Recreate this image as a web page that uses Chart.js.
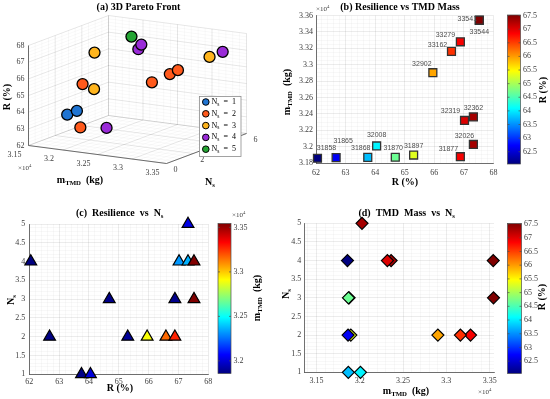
<!DOCTYPE html>
<html>
<head>
<meta charset="utf-8">
<script src="https://cdn.jsdelivr.net/npm/chart.js@4/dist/chart.umd.min.js"></script>
<style>
    html, body { margin: 0; padding: 0; background: #fff; }
    #wrap { position: relative; width: 550px; height: 399px; }
    #wrap canvas { position: absolute; left: 0; top: 0; }
</style>
</head>
<body>
<div id="wrap">
    <canvas id="pareto3d" width="550" height="399"></canvas>
    <canvas id="massChart" width="550" height="399"></canvas>
    <canvas id="nsChart" width="550" height="399"></canvas>
    <canvas id="massNsChart" width="550" height="399"></canvas>
</div>
<script>
// ---- data ----
const resilience = [62.05, 62.68, 63.75, 64.05, 64.68, 65.30, 65.95, 66.58, 66.88, 66.88, 67.02, 67.32, 67.32, 67.52, 67.52];
const tmdMass    = [31858, 31865, 31868, 32008, 31870, 31897, 32902, 33162, 33279, 31877, 32319, 32362, 32026, 33541, 33544];
const nSub       = [4, 2, 1, 1, 3, 2, 2, 2, 2, 3, 4, 4, 5, 4, 3];
const nsGroups   = [1, 2, 3, 4, 5];

// tick labels
const rTicks        = [62, 63, 64, 65, 66, 67, 68];
const massTicksB    = [3.18, 3.20, 3.22, 3.24, 3.26, 3.28, 3.30, 3.32, 3.34, 3.36];
const massTicksD    = [3.15, 3.20, 3.25, 3.30, 3.35];
const nsTicks       = [1, 1.5, 2, 2.5, 3, 3.5, 4, 4.5, 5];
const rBarTicks     = [62.5, 63, 63.5, 64, 64.5, 65, 65.5, 66, 66.5, 67, 67.5];
const massBarTicks  = [3.20, 3.25, 3.30, 3.35];
const mass3dTicks   = [3.15, 3.20, 3.25, 3.30, 3.35];
const ns3dTicks     = [0, 2, 4, 6];
const r3dTicks      = [62, 63, 64, 65, 66, 67, 68];

// look
const groupColors = ['#1f74d2', '#ff5a1c', '#ffb51e', '#9a2bd8', '#25a534'];
const SERIF = "'Liberation Serif', 'DejaVu Serif', serif";
const SANS = "'Liberation Sans', Arial, sans-serif";
const TICK_COLOR = '#404040';
const GRID_MAJOR = 'rgba(0,0,0,0.13)';
const GRID_MINOR = 'rgba(0,0,0,0.05)';

// label nudges for panel (b), px
const labelNudge = [[9, -10], [7, -17], [-7, -9], [0, -11], [-2, -9], [0, -9], [-11, -9], [-14, -6],
                    [-15, -7], [-12, -8], [-14, -9], [0, -9], [-9, -8], [-12, -1], [0, 12]];

const rMin = Math.min(...resilience), rMax = Math.max(...resilience);
const mMin = Math.min(...tmdMass), mMax = Math.max(...tmdMass);

function jet(t) {
    t = Math.max(0, Math.min(1, t));
    const c = k => Math.round(255 * Math.max(0, Math.min(1, 1.5 - Math.abs(4 * t - k))));
    return `rgb(${c(3)},${c(2)},${c(1)})`;
}

// text with sub/superscripts: parts = ['m', ['TMD', 'sub'], ' (kg)']
function rich(ctx, parts, x, y, o = {}) {
    const size = o.size || 10, weight = o.bold ? 'bold ' : '', fam = o.family || SERIF;
    const spec = parts.map(p => {
        const [t, k] = Array.isArray(p) ? p : [p, ''];
        const s = k ? size * 0.68 : size;
        ctx.font = `${weight}${s}px ${fam}`;
        return { t, k, s, w: ctx.measureText(t).width };
    });
    const total = spec.reduce((a, p) => a + p.w, 0);
    ctx.save();
    ctx.translate(x, y);
    if (o.rotate) ctx.rotate(o.rotate);
    let cx = o.align === 'left' ? 0 : o.align === 'right' ? -total : -total / 2;
    ctx.fillStyle = o.color || '#000';
    ctx.textBaseline = 'middle';
    ctx.textAlign = 'left';
    for (const p of spec) {
        ctx.font = `${weight}${p.s}px ${fam}`;
        const dy = p.k === 'sub' ? size * 0.3 : p.k === 'sup' ? -size * 0.35 : 0;
        ctx.fillText(p.t, cx, dy);
        cx += p.w;
    }
    ctx.restore();
}

const MTMD = ['m', ['TMD', 'sub'], '  (kg)'];
const NS = ['N', ['s', 'sub']];
const X10 = ['\u00d710', ['4', 'sup']];

function drawColorbar(ctx, box, lo, hi, ticks, fmt) {
    const h = box.bottom - box.top;
    const g = ctx.createLinearGradient(0, box.bottom, 0, box.top);
    for (let i = 0; i <= 64; i++) g.addColorStop(i / 64, jet(i / 64));
    ctx.fillStyle = g;
    ctx.fillRect(box.left, box.top, box.right - box.left, h);
    ctx.strokeStyle = '#4d4d4d';
    ctx.lineWidth = 0.7;
    ctx.strokeRect(box.left, box.top, box.right - box.left, h);
    ticks.forEach(t => {
        const y = box.bottom - (t - lo) / (hi - lo) * h;
        ctx.beginPath();
        ctx.moveTo(box.right, y); ctx.lineTo(box.right - 2, y);
        ctx.moveTo(box.left, y); ctx.lineTo(box.left + 2, y);
        ctx.stroke();
        rich(ctx, [fmt(t)], box.right + 2.5, y, { size: 8, align: 'left', color: TICK_COLOR });
    });
}

function gridScale(o) {
    const isMajor = v => o.majors.some(t => Math.abs(t - v) < o.step * 1e-3);
    const ticks = [];
    for (let k = Math.ceil(o.min / o.step - 1e-9); k * o.step <= o.max + 1e-9; k++) {
        ticks.push(+(k * o.step).toFixed(6));
    }
    return {
        type: 'linear', min: o.min, max: o.max,
        afterBuildTicks: s => { s.ticks = ticks.map(v => ({ value: v })); },
        afterFit: s => { if (s.isHorizontal()) s.height = o.size; else s.width = o.size; },
        ticks: {
            autoSkip: false, maxRotation: 0, padding: o.pad, color: TICK_COLOR,
            font: { family: SERIF, size: 8 },
            callback: v => isMajor(v) ? o.fmt(v) : ''
        },
        grid: {
            drawTicks: false, lineWidth: 0.6,
            color: c => (c.tick && isMajor(c.tick.value)) ? GRID_MAJOR : GRID_MINOR
        },
        border: { color: '#4d4d4d', width: 0.8 }
    };
}

const fmtMass = v => String(+(v / 1e4).toFixed(4));
const baseOpts = {
    responsive: false, animation: false, events: [],
    plugins: { legend: { display: false }, tooltip: { enabled: false } }
};

// ---------------- (a) 3D Pareto front ----------------
const massRange3d = [31500, 33500], nsRange3d = [0, 6], rRange3d = [62, 68];
const view3d = { origin: [28.5, 145.5], ex: [138, 18], ey: [80, -30], ez: [0, -100] };

function project(m, n, r) {
    const u = (m - massRange3d[0]) / (massRange3d[1] - massRange3d[0]);
    const v = (n - nsRange3d[0]) / (nsRange3d[1] - nsRange3d[0]);
    const w = (r - rRange3d[0]) / (rRange3d[1] - rRange3d[0]);
    const { origin, ex, ey, ez } = view3d;
    return {
        x: origin[0] + u * ex[0] + v * ey[0] + w * ez[0],
        y: origin[1] + u * ex[1] + v * ey[1] + w * ez[1]
    };
}

function steps(a, b, s) {
    const out = [];
    for (let k = Math.ceil(a / s - 1e-9); k * s <= b + 1e-9; k++) out.push(+(k * s).toFixed(6));
    return out;
}

const box3dPlugin = {
    id: 'box3d',
    beforeDatasetsDraw(chart) {
        const ctx = chart.ctx, sx = chart.scales.x, sy = chart.scales.y;
        const P = (m, n, r) => { const p = project(m, n, r); return [sx.getPixelForValue(p.x), sy.getPixelForValue(p.y)]; };
        const seg = (a, b) => { const p = P(...a), q = P(...b); ctx.moveTo(p[0], p[1]); ctx.lineTo(q[0], q[1]); };
        const [m0, m1] = massRange3d, [n0, n1] = nsRange3d, [r0, r1] = rRange3d;
        const mMaj = mass3dTicks.map(t => Math.round(t * 1e4));
        const layers = [
            { m: steps(m0, m1, 100), n: steps(n0, n1, 0.5), r: steps(r0, r1, 0.2), color: GRID_MINOR },
            { m: mMaj, n: ns3dTicks, r: r3dTicks, color: GRID_MAJOR }
        ];
        ctx.save();
        ctx.lineWidth = 0.6;
        layers.forEach(L => {
            ctx.strokeStyle = L.color;
            ctx.beginPath();
            L.m.forEach(m => { seg([m, n0, r0], [m, n1, r0]); seg([m, n1, r0], [m, n1, r1]); });
            L.n.forEach(n => { seg([m0, n, r0], [m1, n, r0]); seg([m0, n, r0], [m0, n, r1]); });
            L.r.forEach(r => { seg([m0, n1, r], [m1, n1, r]); seg([m0, n0, r], [m0, n1, r]); });
            ctx.stroke();
        });
        ctx.strokeStyle = '#4d4d4d';
        ctx.lineWidth = 0.8;
        ctx.beginPath();
        seg([m0, n0, r0], [m1, n0, r0]);
        seg([m1, n0, r0], [m1, n1, r0]);
        seg([m0, n0, r0], [m0, n0, r1]);
        ctx.stroke();

        mMaj.forEach(m => { const p = P(m, n0, r0); rich(ctx, [fmtMass(m)], p[0] - 14, p[1] + 9, { size: 8, color: TICK_COLOR }); });
        ns3dTicks.forEach(n => { const p = P(m1, n, r0); rich(ctx, [String(n)], p[0] + 9, p[1] + 6, { size: 8, color: TICK_COLOR }); });
        r3dTicks.forEach(r => { const p = P(m0, n0, r); rich(ctx, [String(r)], p[0] - 4, p[1], { size: 8, align: 'right', color: TICK_COLOR }); });

        rich(ctx, X10, 18, 168, { size: 7, align: 'left', color: TICK_COLOR });
        rich(ctx, MTMD, 80, 180, { size: 10, bold: true });
        rich(ctx, NS, 210, 182, { size: 10, bold: true });
        rich(ctx, ['R (%)'], 7, 97, { size: 10, bold: true, rotate: -Math.PI / 2 });
        rich(ctx, ['(a) 3D Pareto Front'], 138.5, 7.5, { size: 10, bold: true });
        ctx.restore();
    },
    afterDatasetsDraw(chart) {
        const ctx = chart.ctx;
        const lx = 199.5, ly = 96.5, lw = 41.5, lh = 60;
        ctx.save();
        ctx.fillStyle = '#fff';
        ctx.fillRect(lx, ly, lw, lh);
        ctx.strokeStyle = '#8c8c8c';
        ctx.lineWidth = 0.8;
        ctx.strokeRect(lx, ly, lw, lh);
        chart.data.datasets.forEach((ds, i) => {
            const y = ly + 5.5 + i * 11.8;
            ctx.beginPath();
            ctx.arc(lx + 6.3, y, 3.3, 0, Math.PI * 2);
            ctx.fillStyle = ds.backgroundColor;
            ctx.fill();
            ctx.strokeStyle = '#000';
            ctx.lineWidth = 1;
            ctx.stroke();
            rich(ctx, ['N', ['s', 'sub'], '  =  ' + nsGroups[i]], lx + 12, y, { size: 8, align: 'left' });
        });
        ctx.restore();
    }
};

new Chart(document.getElementById('pareto3d'), {
    type: 'scatter',
    data: {
        datasets: nsGroups.map((g, gi) => ({
            label: 'Ns = ' + g,
            data: resilience.map((r, i) => i).filter(i => nSub[i] === g)
                .map(i => project(tmdMass[i], nSub[i], resilience[i])),
            backgroundColor: groupColors[gi],
            borderColor: '#000',
            borderWidth: 1.3,
            pointRadius: 5.5,
            clip: false
        }))
    },
    options: {
        ...baseOpts,
        layout: { padding: 0, autoPadding: false },
        scales: {
            x: { type: 'linear', display: false, min: 0, max: 550 },
            y: { type: 'linear', display: false, min: 0, max: 399, reverse: true }
        }
    },
    plugins: [box3dPlugin]
});

// ---------------- (b) Resilience vs TMD mass ----------------
new Chart(document.getElementById('massChart'), {
    type: 'scatter',
    data: {
        datasets: [{
            data: resilience.map((r, i) => ({ x: r, y: tmdMass[i] })),
            backgroundColor: resilience.map(r => jet((r - rMin) / (rMax - rMin))),
            borderColor: '#333',
            borderWidth: 1.3,
            pointStyle: 'rect',
            pointRadius: 5.6,
            clip: false
        }]
    },
    options: {
        ...baseOpts,
        layout: { padding: { left: 276, right: 56.5, top: 15.5, bottom: 216 }, autoPadding: false },
        scales: {
            x: gridScale({ min: 62, max: 68, step: 0.2, majors: rTicks, fmt: String, size: 20, pad: 5 }),
            y: gridScale({ min: 31800, max: 33600, step: 50, majors: massTicksB.map(t => Math.round(t * 1e4)), fmt: fmtMass, size: 40, pad: 3 })
        }
    },
    plugins: [{
        id: 'panelB',
        afterDatasetsDraw(chart) {
            const ctx = chart.ctx;
            chart.getDatasetMeta(0).data.forEach((el, i) => {
                rich(ctx, [String(tmdMass[i])], el.x + labelNudge[i][0], el.y + labelNudge[i][1],
                     { size: 7, family: SANS, color: '#4d4d4d' });
            });
            rich(ctx, ['(b) Resilience vs TMD Mass'], 400, 7, { size: 10, bold: true });
            rich(ctx, X10, 316, 9.5, { size: 7, align: 'left', color: TICK_COLOR });
            rich(ctx, ['R (%)'], 405, 182.5, { size: 10, bold: true });
            rich(ctx, MTMD, 287, 92, { size: 10, bold: true, rotate: -Math.PI / 2 });
            drawColorbar(ctx, { left: 507.5, right: 520.5, top: 15, bottom: 164 }, rMin, rMax, rBarTicks, String);
            rich(ctx, ['R (%)'], 543, 90, { size: 10, bold: true, rotate: -Math.PI / 2 });
        }
    }]
});

// ---------------- (c) Resilience vs Ns ----------------
new Chart(document.getElementById('nsChart'), {
    type: 'scatter',
    data: {
        datasets: [{
            data: resilience.map((r, i) => ({ x: r, y: nSub[i] })),
            backgroundColor: tmdMass.map(m => jet((m - mMin) / (mMax - mMin))),
            borderColor: '#000',
            borderWidth: 1.2,
            pointStyle: 'triangle',
            pointRadius: 6.8,
            clip: false
        }]
    },
    options: {
        ...baseOpts,
        layout: { padding: { left: 4.3, right: 341.7, top: 224, bottom: 6.7 }, autoPadding: false },
        scales: {
            x: gridScale({ min: 62, max: 68, step: 0.2, majors: rTicks, fmt: String, size: 18, pad: 3 }),
            y: gridScale({ min: 1, max: 5, step: 0.1, majors: nsTicks, fmt: String, size: 25, pad: 4 })
        }
    },
    plugins: [{
        id: 'panelC',
        afterDatasetsDraw(chart) {
            const ctx = chart.ctx;
            rich(ctx, ['(c)  Resilience  vs  N', ['s', 'sub']], 119.7, 213.5, { size: 10, bold: true });
            rich(ctx, ['R (%)'], 120, 388.5, { size: 10, bold: true });
            rich(ctx, NS, 11, 300, { size: 10, bold: true, rotate: -Math.PI / 2 });
            drawColorbar(ctx, { left: 218, right: 231, top: 223.5, bottom: 373.5 }, mMin, mMax,
                         massBarTicks.map(t => Math.round(t * 1e4)), fmtMass);
            rich(ctx, X10, 232, 215, { size: 7, align: 'left', color: TICK_COLOR });
            rich(ctx, MTMD, 257, 298, { size: 10, bold: true, rotate: -Math.PI / 2 });
        }
    }]
});

// ---------------- (d) TMD mass vs Ns ----------------
const drawOrderD = resilience.map((r, i) => i).sort((a, b) => resilience[b] - resilience[a]);
new Chart(document.getElementById('massNsChart'), {
    type: 'scatter',
    data: {
        datasets: [{
            data: drawOrderD.map(i => ({ x: tmdMass[i], y: nSub[i] })),
            backgroundColor: drawOrderD.map(i => jet((resilience[i] - rMin) / (rMax - rMin))),
            borderColor: '#000',
            borderWidth: 1.2,
            pointStyle: 'rectRot',
            pointRadius: 6,
            clip: false
        }]
    },
    options: {
        ...baseOpts,
        layout: { padding: { left: 274.3, right: 56, top: 223.3, bottom: 8.7 }, autoPadding: false },
        scales: {
            x: gridScale({ min: 31360, max: 33550, step: 100, majors: massTicksD.map(t => Math.round(t * 1e4)), fmt: fmtMass, size: 18, pad: 4 }),
            y: gridScale({ min: 1, max: 5, step: 0.1, majors: nsTicks, fmt: String, size: 30, pad: 3 })
        }
    },
    plugins: [{
        id: 'panelD',
        afterDatasetsDraw(chart) {
            const ctx = chart.ctx;
            rich(ctx, ['(d)  TMD  Mass  vs  N', ['s', 'sub']], 406.7, 213.5, { size: 10, bold: true });
            rich(ctx, MTMD, 406, 391.5, { size: 10, bold: true });
            rich(ctx, X10, 478, 392, { size: 7, align: 'left', color: TICK_COLOR });
            rich(ctx, NS, 286.7, 294, { size: 10, bold: true, rotate: -Math.PI / 2 });
            drawColorbar(ctx, { left: 507.5, right: 521.5, top: 223.5, bottom: 373.5 }, rMin, rMax, rBarTicks, String);
            rich(ctx, ['R (%)'], 542, 297, { size: 10, bold: true, rotate: -Math.PI / 2 });
        }
    }]
});
</script>
</body>
</html>
